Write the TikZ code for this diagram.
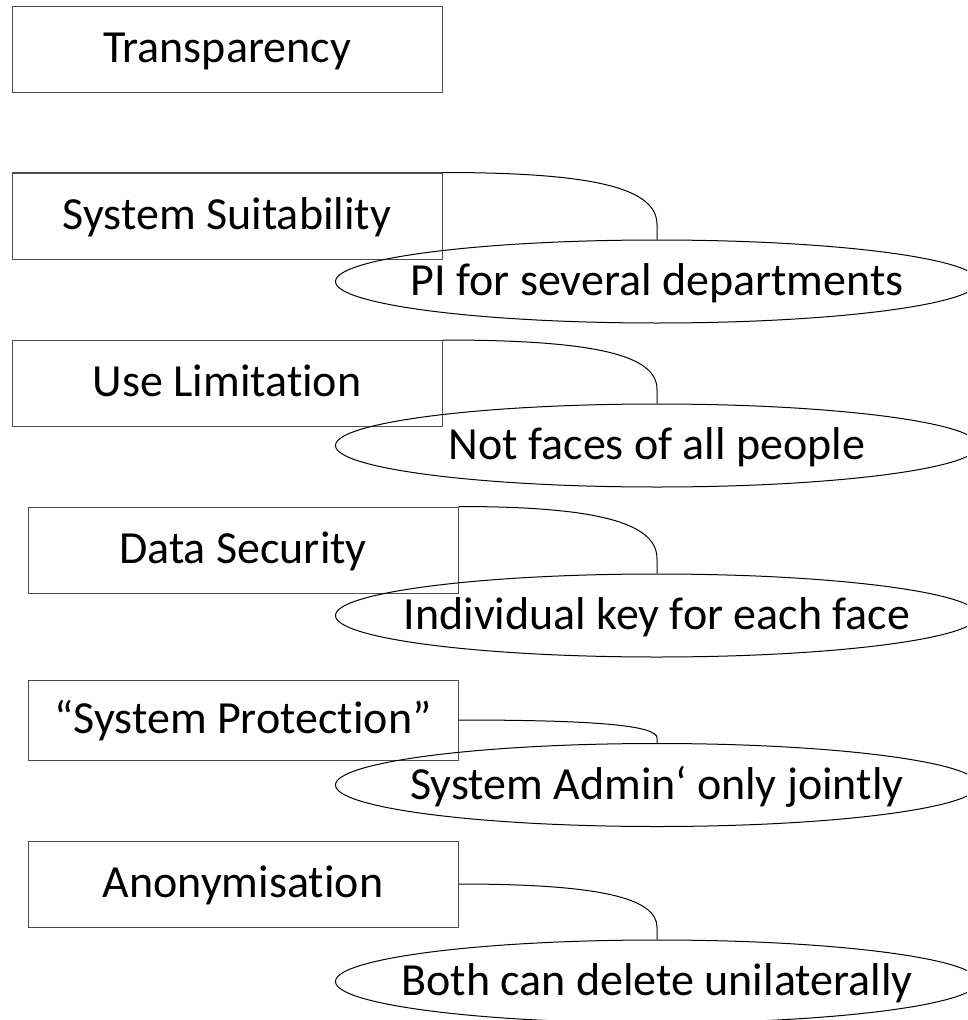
\documentclass[tikz,border=0pt]{standalone}
\usepackage{fontspec}
\setmainfont{Carlito}[Ligatures=NoCommon]
\usetikzlibrary{shapes.geometric,calc}
\tikzset{
  box/.style={draw=black!70, line width=0.75pt, rectangle, minimum width=322.5pt, minimum height=64.5pt, inner sep=0pt, text height=24pt, text depth=4pt, font=\fontsize{34.5}{40}\selectfont},
  oval/.style={draw=black, line width=0.75pt, ellipse, minimum width=482.25pt, minimum height=62.25pt, inner sep=0pt, text height=25pt, text depth=4pt, font=\fontsize{34.5}{40}\selectfont},
  link/.style={draw=black, line width=0.75pt,
    to path={let \p1=(\tikztostart), \p2=(\tikztotarget), \n1={\y1-\y2} in
      (\p1) .. controls (\x2-43.5pt,\y1) and (\x2,\y1-0.25*\n1) .. (\x2,\y1-0.78*\n1) -- (\p2)}}
}
\begin{document}
\begin{tikzpicture}[x=0.75pt,y=-0.75pt]
\useasboundingbox (0,0) rectangle (967,1020);
\clip (0,0) rectangle (967,1020);
\node[box] (b1) at (227,49.5) {Transparency};
\node[box] (b2) at (227,216) {System Suitability};
\node[box] (b3) at (227,383.5) {Use Limitation};
\node[box] (b4) at (243,550) {Data Security};
\node[box, minimum height=60pt] (b5) at (243,720) {“System Protection”};
\node[box] (b6) at (243,884) {Anonymisation};
\node[oval] (e1) at (657,281.5) {\makebox[0pt]{PI for several departments}};
\node[oval] (e2) at (657,445.5) {\makebox[0pt]{Not faces of all people}};
\node[oval] (e3) at (657,615.5) {\makebox[0pt]{Individual key for each face}};
\node[oval] (e4) at (657,785) {\makebox[0pt]{System Admin‘ only jointly}};
\node[oval] (e5) at (657,981.5) {\makebox[0pt]{Both can delete unilaterally}};
\draw[link] (b2.north east) to (e1.north);
\draw[link] (b3.north east) to (e2.north);
\draw[link] (b4.north east) to (e3.north);
\draw[link] (b5.east) to (e4.north);
\draw[link] (b6.east) to (e5.north);
\end{tikzpicture}
\end{document}
